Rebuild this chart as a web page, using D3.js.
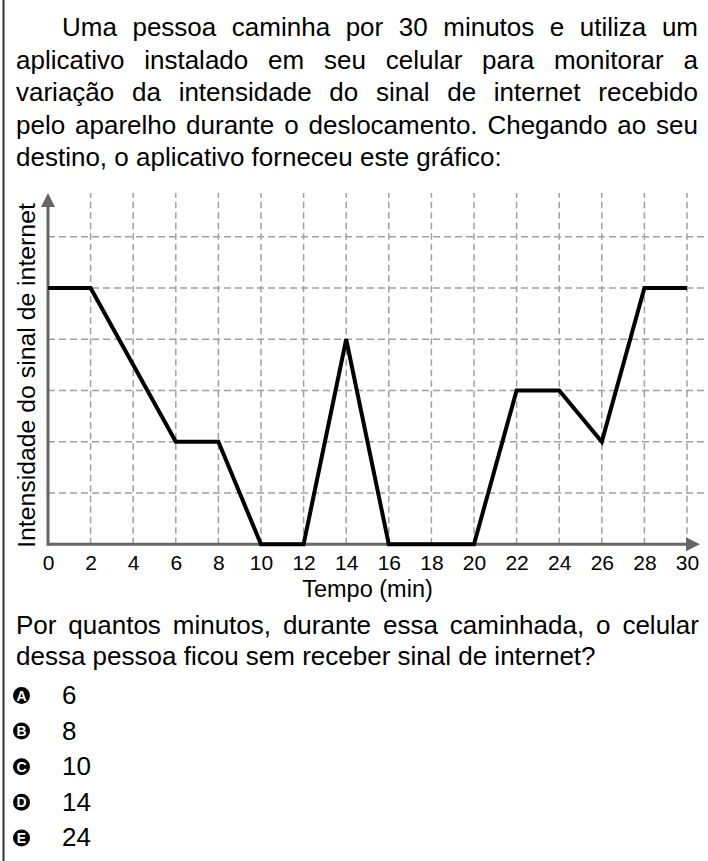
<!DOCTYPE html>
<html>
<head>
<meta charset="utf-8">
<script src="https://cdn.jsdelivr.net/npm/d3@7"></script>
<style>
html,body{margin:0;padding:0;background:#fff;}
svg{display:block;}
text{font-family:"Liberation Sans", Arial, Helvetica, sans-serif;fill:#000;}
</style>
</head>
<body>
<script>
// ---- data ----
const times = [0, 2, 6, 8, 10, 12, 14, 16, 20, 22, 24, 26, 28, 30];
const signal = [5, 5, 2, 2, 0, 0, 4, 0, 0, 3, 3, 2, 5, 5];
const xTickLabels = [0, 2, 4, 6, 8, 10, 12, 14, 16, 18, 20, 22, 24, 26, 28, 30];
const yGridLevels = [1, 2, 3, 4, 5, 6];
const xAxisTitle = "Tempo (min)";
const yAxisTitle = "Intensidade do sinal de internet";
const introLines = [
  "Uma pessoa caminha por 30 minutos e utiliza um",
  "aplicativo instalado em seu celular para monitorar a",
  "variação da intensidade do sinal de internet recebido",
  "pelo aparelho durante o deslocamento. Chegando ao seu",
  "destino, o aplicativo forneceu este gráfico:"
];
const questionLines = [
  "Por quantos minutos, durante essa caminhada, o celular",
  "dessa pessoa ficou sem receber sinal de internet?"
];
const optionLetters = ["A", "B", "C", "D", "E"];
const optionValues = ["6", "8", "10", "14", "24"];

// ---- layout ----
const W = 708, H = 861;
const svg = d3.select("body").append("svg").attr("width", W).attr("height", H);

// left border
svg.append("line").attr("x1", 3.5).attr("x2", 3.5).attr("y1", 0).attr("y2", H)
  .attr("stroke", "#333").attr("stroke-width", 2);

const FS = 26;
function textLine(str, x0, x1, y, justify) {
  const t = svg.append("text").attr("x", x0).attr("y", y)
    .style("font-size", FS + "px").text(str);
  if (justify) {
    const w = t.node().getComputedTextLength();
    const n = (str.match(/ /g) || []).length;
    if (n) t.style("word-spacing", ((x1 - x0 - w) / n) + "px");
  }
  return t;
}

// intro paragraph
const introBase = 36, lh = 32.5;
introLines.forEach((s, i) => {
  const x0 = i === 0 ? 62 : 16;
  textLine(s, x0, 698, introBase + i * lh, i < introLines.length - 1);
});

// ---- chart ----
const x = d3.scaleLinear().domain([0, 30]).range([48, 687]);
const y = d3.scaleLinear().domain([0, 6]).range([544.3, 236.7]);
const yTop = y(6.85);
const gridColor = "#a0a0a0", axisColor = "#666";

const g = svg.append("g");
// vertical gridlines
g.selectAll("line.vg").data(xTickLabels.filter(d => d > 0)).join("line")
  .attr("class", "vg")
  .attr("x1", d => x(d)).attr("x2", d => x(d))
  .attr("y1", y(0)).attr("y2", yTop)
  .attr("stroke", gridColor).attr("stroke-width", 1.5).attr("stroke-dasharray", "6.5,4");
// horizontal gridlines
g.selectAll("line.hg").data(yGridLevels).join("line")
  .attr("class", "hg")
  .attr("x1", x(0)).attr("x2", W)
  .attr("y1", d => y(d)).attr("y2", d => y(d))
  .attr("stroke", gridColor).attr("stroke-width", 1.5).attr("stroke-dasharray", "7,4");

// x axis tick labels
const xAxis = d3.axisBottom(x).tickValues(xTickLabels).tickSize(0).tickPadding(0).tickFormat(d3.format("d"));
const xg = g.append("g").attr("transform", `translate(0,${y(0)})`).call(xAxis);
xg.select(".domain").remove();
xg.selectAll(".tick text").attr("dy", null).attr("y", 26)
  .style("font-size", "21px").style("font-family", '"Liberation Sans", Arial, sans-serif').attr("fill", "#000");

// axis lines + arrows
g.append("line").attr("x1", x(0)).attr("x2", x(30)).attr("y1", y(0)).attr("y2", y(0))
  .attr("stroke", axisColor).attr("stroke-width", 3);
g.append("line").attr("x1", x(0)).attr("x2", x(0)).attr("y1", y(0) + 1.5).attr("y2", yTop + 12)
  .attr("stroke", axisColor).attr("stroke-width", 3);
g.append("path")
  .attr("d", `M${x(30) - 1},${y(0) - 7} L${x(30) + 13},${y(0)} L${x(30) - 1},${y(0) + 7} Z`)
  .attr("fill", axisColor);
g.append("path")
  .attr("d", `M${x(0) - 7},${yTop + 14} L${x(0)},${yTop} L${x(0) + 7},${yTop + 14} Z`)
  .attr("fill", axisColor);

// data line
const pts = times.map((t, i) => [t, signal[i]]);
g.append("path").datum(pts)
  .attr("d", d3.line().x(d => x(d[0])).y(d => y(d[1])))
  .attr("fill", "none").attr("stroke", "#000").attr("stroke-width", 4)
  .attr("stroke-linejoin", "miter");

// axis titles
svg.append("text").attr("x", (x(0) + x(30)) / 2).attr("y", 597)
  .attr("text-anchor", "middle").style("font-size", "23.5px").text(xAxisTitle);
svg.append("text").attr("transform", `translate(35,${(548 + 203) / 2}) rotate(-90)`)
  .attr("text-anchor", "middle").style("font-size", "24.8px").text(yAxisTitle);

// ---- question ----
questionLines.forEach((s, i) => {
  textLine(s, 16, 699, 634 + i * 31, i < questionLines.length - 1);
});

// ---- options ----
const optG = svg.append("g");
optionLetters.forEach((L, i) => {
  const cy = 695.5 + i * 35.6;
  optG.append("circle").attr("cx", 21.5).attr("cy", cy).attr("r", 8.5).attr("fill", "#000");
  optG.append("text").attr("x", 21.5).attr("y", cy + 5).attr("text-anchor", "middle")
    .style("font-size", "14px").style("font-weight", "bold").style("fill", "#fff").text(L);
  optG.append("text").attr("x", 62).attr("y", cy + 8.5).style("font-size", FS + "px").text(optionValues[i]);
});
</script>
</body>
</html>
